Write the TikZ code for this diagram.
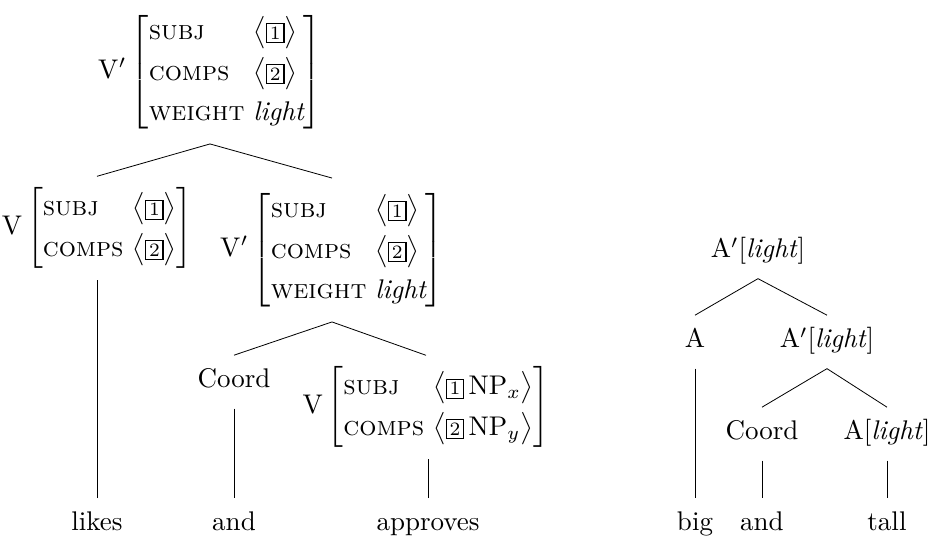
\documentclass[tikz,border=0pt]{standalone}
\usepackage{amsmath}
\usepackage{amssymb}
\renewcommand{\arraystretch}{1.25}
\newcommand{\tg}[1]{{\setlength{\fboxsep}{1pt}\fbox{\scriptsize #1}}}
\newcommand{\attr}[1]{\textsc{#1}}
\newcommand{\lst}[1]{\bigl\langle#1\bigr\rangle}

\begin{document}
\begin{tikzpicture}[x=0.3704pt, y=-0.3704pt, line width=0.3pt,
	avm/.style={inner sep=4pt},
	word/.style={anchor=base, inner sep=5pt, text height=7pt, text depth=2.5pt}]
	\useasboundingbox (0,0) rectangle (936,541);
	\node [avm] (vtop) at (210,72) {$\mathrm{V}'\left[\begin{array}{@{}l@{\ }l@{}}
		\attr{subj} & \lst{\tg{1}}\\
		\attr{comps} & \lst{\tg{2}}\\
		\attr{weight} & \textit{light}
	\end{array}\right]$};
	\node [avm] (vleft) at (97,228) {$\mathrm{V}\left[\begin{array}{@{}l@{\ }l@{}}
		\attr{subj} & \lst{\tg{1}}\\
		\attr{comps} & \lst{\tg{2}}
	\end{array}\right]$};
	\node [avm] (vright) at (332,250) {$\mathrm{V}'\left[\begin{array}{@{}l@{\ }l@{}}
		\attr{subj} & \lst{\tg{1}}\\
		\attr{comps} & \lst{\tg{2}}\\
		\attr{weight} & \textit{light}
	\end{array}\right]$};
	\node [word] (coord) at (234,388) {Coord};
	\node [avm] (vnp) at (426,407) {$\mathrm{V}\left[\begin{array}{@{}l@{\ }l@{}}
		\attr{subj} & \lst{\tg{1}\,\mathrm{NP}_x}\\
		\attr{comps} & \lst{\tg{2}\,\mathrm{NP}_y}
	\end{array}\right]$};
	\node [word] (likes) at (97,531) {likes};
	\node [word] (and) at (234,531) {and};
	\node [word] (approves) at (428,531) {approves};
	\draw (vtop.south) -- (vleft.north);
	\draw (vtop.south) -- (vright.north);
	\draw (likes.north) -- (likes.north |- vleft.south);
	\draw (vright.south) -- (coord.north);
	\draw (vright.south) -- (vnp.north);
	\draw (coord.south) -- (and.north);
	\draw (approves.north) -- (approves.north |- vnp.south);
	\node [word] (atop) at (758,258) {$\mathrm{A}'$[\textit{light}]};
	\node [word] (a) at (695,348) {A};
	\node [word] (abar) at (827,348) {$\mathrm{A}'$[\textit{light}]};
	\node [word] (coordb) at (762,440) {Coord};
	\node [word] (alight) at (887,440) {A[\textit{light}]};
	\node [word] (big) at (695,531) {big};
	\node [word] (andb) at (762,531) {and};
	\node [word] (tall) at (887,531) {tall};
	\draw (atop.south) -- (a.north);
	\draw (atop.south) -- (abar.north);
	\draw (a.south) -- (big.north);
	\draw (abar.south) -- (coordb.north);
	\draw (abar.south) -- (alight.north);
	\draw (coordb.south) -- (andb.north);
	\draw (alight.south) -- (tall.north);
\end{tikzpicture}
\end{document}
